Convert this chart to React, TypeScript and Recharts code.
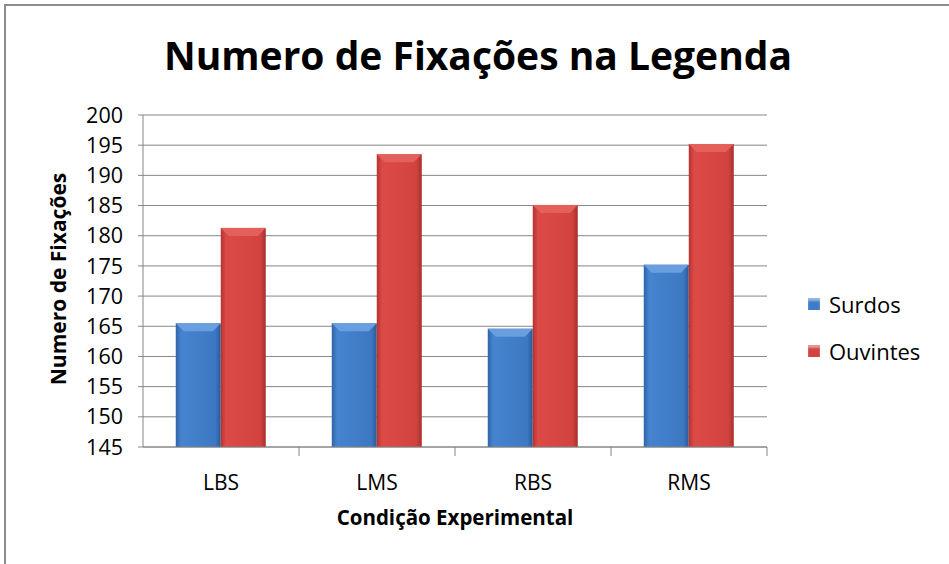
import React from "react";
import { BarChart, Bar, XAxis, YAxis, CartesianGrid } from "recharts";

const categories = ["LBS", "LMS", "RBS", "RMS"];
const surdos = [165.5, 165.5, 164.6, 175.2];
const ouvintes = [181.3, 193.5, 185.1, 195.2];
const yTicks = [145, 150, 155, 160, 165, 170, 175, 180, 185, 190, 195, 200];

const data = categories.map((c, i) => ({ cat: c, Surdos: surdos[i], Ouvintes: ouvintes[i] }));

const FONT = "'Open Sans', 'Noto Sans', sans-serif";
const BLUE = "#3f7cc6";
const RED = "#d4423f";

// tick label plus the short boundary tick to the right of each category
function XTick(props: any) {
  const { x, y, payload, width, visibleTicksCount } = props;
  const band = width / visibleTicksCount;
  return (
    <g>
      <line x1={x + band / 2} x2={x + band / 2} y1={y - 8} y2={y + 1} stroke="#868686" />
      <text x={x} y={y + 35} textAnchor="middle" fontSize={21} fill="#000" fontFamily={FONT}>
        {payload.value}
      </text>
    </g>
  );
}

// bar with a light bevel along its top edge
function makeBevel(grad: string, top: string) {
  return function BevelBar(props: any) {
    const { x, y, width, height } = props;
    if (!height || height <= 0) return null;
    const b = Math.min(8, height / 2);
    return (
      <g>
        <rect x={x} y={y} width={width} height={height} fill={grad} />
        <path
          d={`M${x},${y} L${x + width},${y} L${x + width - b},${y + b} L${x + b},${y + b} Z`}
          fill={top}
        />
      </g>
    );
  };
}

const BlueBar = makeBevel("url(#gBlue)", "#6a9fdf");
const RedBar = makeBevel("url(#gRed)", "#e4605b");

function LegendBox() {
  const items = [
    { name: "Surdos", color: BLUE },
    { name: "Ouvintes", color: RED },
  ];
  return (
    <div style={{ position: "absolute", left: 808, top: 280, fontFamily: FONT }}>
      {items.map((it) => (
        <div key={it.name} style={{ display: "flex", alignItems: "center", height: 47 }}>
          <div
            style={{
              width: 12,
              height: 12,
              background: it.color,
              boxShadow: "inset 0 3px 2px rgba(255,255,255,0.45)",
              marginRight: 9,
            }}
          />
          <span style={{ fontSize: 22, color: "#000" }}>{it.name}</span>
        </div>
      ))}
    </div>
  );
}

export default function App() {
  return (
    <div style={{ position: "fixed", left: 0, top: 0, width: 949, height: 564, background: "#fff" }}>
      <div
        style={{
          position: "absolute",
          left: 4,
          top: 4,
          width: 960,
          height: 580,
          border: "2px solid #8c8c8c",
          boxSizing: "border-box",
        }}
      />
      <div
        style={{
          position: "absolute",
          left: 0,
          width: 956,
          top: 28,
          textAlign: "center",
          fontFamily: FONT,
          fontWeight: 700,
          fontSize: 39,
          color: "#000",
        }}
      >
        Numero de Fixações na Legenda
      </div>
      <div
        style={{
          position: "absolute",
          left: 0,
          width: 910,
          top: 503,
          textAlign: "center",
          fontFamily: FONT,
          fontWeight: 700,
          fontSize: 20.5,
        }}
      >
        Condição Experimental
      </div>
      <div
        style={{
          position: "absolute",
          left: 58,
          top: 279,
          transform: "translate(-50%, -50%) rotate(-90deg)",
          whiteSpace: "nowrap",
          fontFamily: FONT,
          fontWeight: 700,
          fontSize: 21,
        }}
      >
        Numero de Fixações
      </div>
      <LegendBox />
      <BarChart
        width={949}
        height={564}
        data={data}
        margin={{ top: 115, right: 182, bottom: 87, left: 83 }}
        barCategoryGap="21%"
        barGap={0}
        style={{ position: "absolute", left: 0, top: 0 }}
      >
        <defs>
          <linearGradient id="gBlue" x1="0" y1="0" x2="1" y2="0">
            <stop offset="0" stopColor="#2f64a8" />
            <stop offset="0.12" stopColor="#4684d0" />
            <stop offset="0.88" stopColor="#3d78c2" />
            <stop offset="1" stopColor="#2a5a98" />
          </linearGradient>
          <linearGradient id="gRed" x1="0" y1="0" x2="1" y2="0">
            <stop offset="0" stopColor="#b53330" />
            <stop offset="0.12" stopColor="#dc4a46" />
            <stop offset="0.88" stopColor="#d2433f" />
            <stop offset="1" stopColor="#a82f2c" />
          </linearGradient>
        </defs>
        <CartesianGrid vertical={false} stroke="#868686" />
        <XAxis
          dataKey="cat"
          stroke="#868686"
          tickLine={false}
          tick={<XTick />}
          interval={0}
          height={30}
        />
        <YAxis
          domain={[145, 200]}
          ticks={yTicks}
          width={60}
          stroke="#868686"
          tickSize={5}
          tickMargin={15}
          tick={{ fontSize: 21.5, fill: "#000", fontFamily: FONT }}
          interval={0}
          allowDataOverflow
        />
        <Bar dataKey="Surdos" fill={BLUE} shape={BlueBar} isAnimationActive={false} />
        <Bar dataKey="Ouvintes" fill={RED} shape={RedBar} isAnimationActive={false} />
      </BarChart>
    </div>
  );
}
